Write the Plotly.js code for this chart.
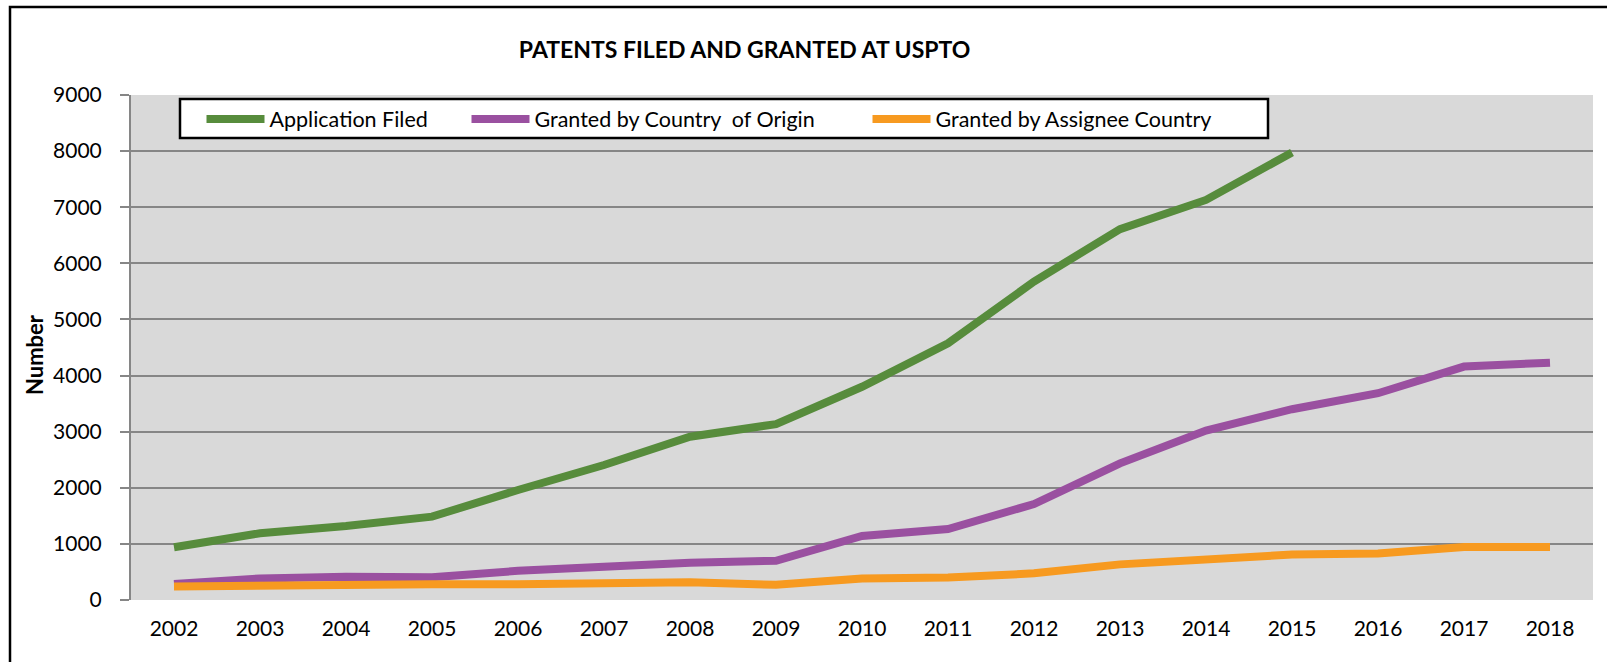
<!DOCTYPE html>
<html>
<head>
<meta charset="utf-8">
<script src="https://cdn.plot.ly/plotly-3.0.1.min.js"></script>
<style>html,body{margin:0;padding:0;background:#fff;}#chart{width:1607px;height:662px;}</style>
</head>
<body>
<div id="chart"></div>
<script>
const years = [2002,2003,2004,2005,2006,2007,2008,2009,2010,2011,2012,2013,2014,2015,2016,2017,2018];
const applicationFiled = [940,1190,1320,1485,1960,2405,2910,3135,3800,4575,5675,6610,7130,7975];
const grantedByOrigin = [285,385,415,405,520,595,665,700,1140,1265,1710,2435,3020,3400,3685,4160,4230];
const grantedByAssignee = [240,265,265,280,280,315,315,270,385,400,475,635,715,810,830,945,945];
const seriesNames = ['Application Filed','Granted by Country  of Origin','Granted by Assignee Country'];
const yTicks = [0,1000,2000,3000,4000,5000,6000,7000,8000,9000];

const W = 1607, H = 662;
const plotL = 131, plotR = 1593, plotT = 95, plotB = 600;
const px = x => (x - plotL) / (plotR - plotL);
const py = y => (plotB - y) / (plotB - plotT);

const font = 'Lato, "Open Sans", sans-serif';
const colors = ['#578C3C', '#9A50A0', '#F79A20'];

const traces = [
  {x: years.slice(0, applicationFiled.length), y: applicationFiled, name: seriesNames[0], legend: 'legend'},
  {x: years, y: grantedByOrigin, name: seriesNames[1], legend: 'legend2'},
  {x: years, y: grantedByAssignee, name: seriesNames[2], legend: 'legend3'}
].map((t, i) => Object.assign(t, {
  type: 'scatter', mode: 'lines',
  line: {color: colors[i], width: 8, shape: 'linear'},
  hoverinfo: 'x+y+name'
}));

function legendAt(xLeft) {
  return {
    xref: 'container', yref: 'container',
    x: xLeft / W, xanchor: 'left',
    y: 1 - 119 / H, yanchor: 'middle',
    orientation: 'h', bgcolor: 'rgba(0,0,0,0)', borderwidth: 0,
    itemwidth: 58,
    font: {family: font, size: 21.5, color: '#000'}
  };
}

const layout = {
  width: W, height: H,
  paper_bgcolor: '#ffffff',
  plot_bgcolor: '#D9D9D9',
  margin: {l: plotL, r: W - plotR, t: plotT, b: H - plotB, pad: 0, autoexpand: false},
  title: {
    text: 'PATENTS FILED AND GRANTED AT USPTO',
    xref: 'container', yref: 'container',
    x: 744.6 / W, xanchor: 'center',
    y: 1 - 50 / H, yanchor: 'middle',
    font: {family: font, size: 23, weight: 700, color: '#000'}
  },
  showlegend: true,
  legend: legendAt(201.5),
  legend2: legendAt(466.5),
  legend3: legendAt(867.5),
  xaxis: {
    type: 'linear',
    range: [2001.5, 2018.5],
    tickvals: years,
    ticktext: years.map(String),
    showgrid: false, zeroline: false,
    showline: false, ticks: '',
    ticklabelstandoff: 14,
    tickfont: {family: font, size: 21, color: '#000'},
    fixedrange: true
  },
  yaxis: {
    range: [0, 9000],
    tickvals: yTicks,
    ticktext: yTicks.map(String),
    showgrid: true, gridcolor: '#868686', gridwidth: 2,
    zeroline: false,
    showline: true, linecolor: '#868686', linewidth: 2,
    ticks: 'outside', ticklen: 9, tickwidth: 2, tickcolor: '#868686',
    ticklabelstandoff: 14,
    tickfont: {family: font, size: 21, color: '#000'},
    fixedrange: true
  },
  annotations: [{
    text: 'Number', textangle: -90,
    xref: 'paper', yref: 'paper',
    x: px(34), y: py(354), xanchor: 'center', yanchor: 'middle',
    showarrow: false,
    font: {family: font, size: 22, weight: 700, color: '#000'}
  }],
  shapes: [
    {type: 'rect', xref: 'paper', yref: 'paper', layer: 'above',
     x0: px(10), x1: px(1625), y0: py(7), y1: py(690),
     line: {color: '#000', width: 2.5}, fillcolor: 'rgba(0,0,0,0)'},
    {type: 'rect', xref: 'paper', yref: 'paper', layer: 'above',
     x0: px(180), x1: px(1268), y0: py(138), y1: py(99),
     line: {color: '#000', width: 2.5}, fillcolor: '#ffffff'}
  ]
};

Plotly.newPlot('chart', traces, layout, {displayModeBar: false, staticPlot: true});
</script>
</body>
</html>
